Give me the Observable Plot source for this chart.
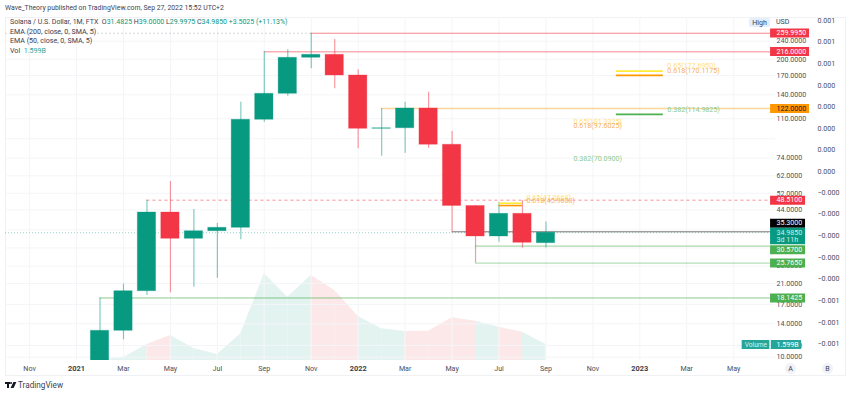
<!DOCTYPE html>
<html><head><meta charset="utf-8">
<script src="https://cdn.jsdelivr.net/npm/d3@7"></script>
<script src="https://cdn.jsdelivr.net/npm/@observablehq/plot@0.6"></script>
<style>
html,body{margin:0;background:#fff;font-family:Roboto,sans-serif}
#wrap{position:relative;width:850px;height:394px;overflow:hidden}
#wrap>*{position:absolute}
svg{left:0;top:0}
.t{white-space:pre;font-size:7.1px;color:#3d4150;line-height:9px}
.v{color:#089981}
</style></head><body><div id="wrap"></div>
<script>
// Monthly candles: index 0 = Nov 2020, 3 = Feb 2021 ... 22 = Sep 2022
const months = [3,4,5,6,7,8,9,10,11,12,13,14,15,16,17,18,19,20,21,22];
const opens  = [8,13.04,19.42,42.86,32.9,35.5,36.74,108.9,141.4,203.1,209.3,170,99.45,100,122,84.7,45.76,33.67,42.3,31.4825];
const highs  = [18.1425,20.88,48.51,58.53,44.17,38.37,130,216,220.2,259.995,244.1,180,122,130,143.7,96.8,45.9,47.5,48.3,39];
const lows   = [8,11.91,18.6,19.11,20.22,22.13,32.57,106.3,138,181.8,148.7,81.3,75.5,77.8,81.8,35.3,25.765,31.8,29.93,29.9975];
const closes = [13.04,19.42,42.86,32.9,35.5,36.74,108.9,141.4,203.1,209.3,170,99.45,100,122,84.7,45.76,33.67,42.3,31.6,34.985];
const volumes= [0.05,0.27,1.6,2.5,1.2,0.6,2.67,8.67,6.33,8.5,7,4.4,3.17,2.9,2.93,4.27,3.93,3.33,2.83,1.6];

const tickIdx = [0,4,6,8,10,12,16,18,20,22,24,28,30];
const tickTxt = ["Nov","Mar","May","Jul","Sep","Nov","Mar","May","Jul","Sep","Nov","Mar","May"];
const yearIdx = [2,14,26];
const yearTxt = ["2021","2022","2023"];
const priceTicks = [240,200,170,140,110,90,74,62,52,44,25,21,17,14,11.25,10];
const gridPrices = [240,200,170,140,110,90,74,62,52,44,36,30,25,21,17,14,11.25,10];

const sideAt  = [295.5,237.6,191.8,153.8,124.4,100,80.8,64.9,52.4,42.2,34,27.3,22.07,17.69,14.18,11.48];
const sideTxt = ["0.001","0.001","0.001","0.000","0.000","0.000","0.000","0.000","−0.000","−0.000","−0.000","−0.000","−0.000","−0.001","−0.001","−0.001"];

// Horizontal levels
const levelPrice = [259.995,216,122,48.51,35.3,30.57,25.765,18.1425];
const levelFrom  = [12,10,15,5,18,19,19,3];
const levelColor = ["#f23645","#f23645","#ff9800","#f23645","#555555","#4caf50","#4caf50","#4caf50"];
const levelAlpha = [0.6,0.4,0.4,0.55,0.8,0.6,0.5,0.65];
const levelWidth = [1,1.4,1.4,1,1,1,1,1];
const levelDash  = ["","","","3,3","","","",""];

// Price tags on the scale
const tagAt    = [260.9,216.5,122,48.51,38.5,33.8,29.5,25.765,18.1425,11.36,11.36];
const tagStart = [31.57,31.57,31.57,31.57,31.57,31.57,31.57,31.57,31.57,30.36,31.6];
const tagEnd   = [33.23,33.23,33.23,33.06,33.06,33.06,33.06,33.06,33.06,31.54,32.89];
const tagH     = [9,9,9,9,9,16.5,9,9,9,9,9];
const tagFill  = ["#f23645","#f23645","#ff9800","#f23645","#000000","#089981","#4caf50","#4caf50","#4caf50","#26a69a","#26a69a"];
const tagTxtAt = [260.9,216.5,122,48.51,38.5,35.05,29.5,25.765,18.1425,11.36,11.36];
const tagTxtX  = [31.82,31.82,31.82,31.82,31.82,31.82,31.82,31.82,31.82,30.47,31.82];
const tagTxt   = ["259.9950","216.0000","122.0000","48.5100","35.3000","34.9850","30.5700","25.7650","18.1425","Volume","1.599B"];
const tagInk   = ["#fff","#fff","#131722","#fff","#fff","#cfeee8","#fff","#fff","#fff","#d8f2ee","#fff"];
const tagSize  = [7.1,7.1,7.1,7.1,7.1,7.1,7.1,7.1,7.1,6.6,7.1];

// Fibonacci levels
const fibPrice = [177.695,170.1175,114.9825,101.3325,97.6025,70.09,47.0668,45.9608];
const fibFrom  = [25,25,25,null,null,null,20,20];
const fibTo    = [27,27,27,23,23,23,21,21];
const fibName  = ["0.65","0.618","0.382","0.65","0.618","0.382","0.65","0.618"];
const fibLine  = ["#ffeb3b","#ff9800","#4caf50","#ffeb3b","#ff9800","#4caf50","#ffeb3b","#ff9800"];
const fibInk   = ["#ffe27a","#f5b35c","#8ccb8e","#ffe27a","#f5b35c","#8ccb8e","#ffe27a","#f5b35c"];

const UP="#089981", DOWN="#f23645";
const candles = months.map((m,k)=>({i:m,o:opens[k],h:highs[k],l:lows[k],c:closes[k],col:closes[k]>=opens[k]?UP:DOWN}));
const levels = levelPrice.map((p,k)=>({p,from:levelFrom[k],col:levelColor[k],a:levelAlpha[k],w:levelWidth[k],dash:levelDash[k]}));
const tags = tagAt.map((at,k)=>({at,a:tagStart[k],b:tagEnd[k],h:tagH[k],fill:tagFill[k],tat:tagTxtAt[k],tx:tagTxtX[k],txt:tagTxt[k],ink:tagInk[k],size:tagSize[k]}));
const fibs = fibPrice.map((p,k)=>({p,a:fibFrom[k],b:fibTo[k],line:fibLine[k],ink:fibInk[k],txt:`${fibName[k]}(${p.toFixed(4)})`}));
const sides = sideAt.map((at,k)=>({at,txt:sideTxt[k]}));
const volSegs = [];
months.forEach((m,k)=>{ if(k>0){ const col=closes[k]>=opens[k]?"#e3f3f0":"#fde8e9";
  volSegs.push({i:months[k-1],v:volumes[k-1],z:k,col}); volSegs.push({i:m,v:volumes[k],z:k,col}); }});

const xDomain=[-1.027,31.78];
const base={width:850,height:394,marginLeft:5,marginRight:75,marginTop:17,marginBottom:34,
  x:{domain:xDomain,axis:null},style:{background:"transparent",fontFamily:"Roboto",overflow:"visible"}};

const volPlot = Plot.plot({...base,y:{domain:[0,34.3],axis:null},marks:[
  Plot.area(volSegs,{x1:"i",y1:0,y2:"v",z:"z",fill:"col",curve:"linear"})
]});

const ax={fontSize:7.1,fill:"#4b4f5c"};
const pricePlot = Plot.plot({...base,y:{type:"log",domain:[9.674,304.6],axis:null},marks:[
  Plot.ruleY(gridPrices,{stroke:"#f4f5f8"}),
  Plot.ruleX([...tickIdx,...yearIdx],{stroke:"#f4f5f8"}),
  Plot.axisX(tickIdx,{anchor:"bottom",tickSize:0,tickPadding:5,label:null,tickFormat:d=>tickTxt[tickIdx.indexOf(d)],...ax}),
  Plot.axisX(yearIdx,{anchor:"bottom",tickSize:0,tickPadding:5,label:null,tickFormat:d=>yearTxt[yearIdx.indexOf(d)],fontSize:7.4,fontWeight:"bold",fill:"#3a3e4a"}),
  Plot.axisY(priceTicks,{anchor:"right",tickSize:0,tickPadding:1,label:null,tickFormat:d=>d.toFixed(4),...ax}),
  Plot.text(sides,{x:33.57,y:"at",text:"txt",textAnchor:"start",...ax}),
  // current price and high guides
  Plot.ruleY([34.985],{x1:xDomain[0],x2:xDomain[1],stroke:UP,strokeOpacity:.4,strokeDasharray:"1,2"}),
  Plot.ruleY([259.995],{x1:xDomain[0],x2:12,stroke:"#c8cad0",strokeDasharray:"2,2",strokeWidth:.8}),
  // levels
  ...levels.map(l=>Plot.ruleY([l.p],{x1:l.from,x2:31.57,stroke:l.col,strokeOpacity:l.a,strokeWidth:l.w,strokeDasharray:l.dash||undefined})),
  // candles
  Plot.ruleX(candles,{x:"i",y1:"l",y2:"h",stroke:"col",strokeOpacity:.5,strokeWidth:1.2,clip:true}),
  Plot.rect(candles,{x1:d=>d.i-.39,x2:d=>d.i+.39,y1:"o",y2:"c",fill:"col",stroke:"col",strokeOpacity:.3,clip:true}),
  // fib
  Plot.ruleY(fibs.filter(f=>f.a!=null),{y:"p",x1:"a",x2:"b",stroke:"line",strokeWidth:1.6}),
  Plot.text(fibs,{x:"b",y:"p",dx:4,dy:-5,text:"txt",fill:"ink",textAnchor:"start",fontSize:7.1}),
  // tags
  Plot.ruleY(tags,{y:"at",x1:"a",x2:"b",stroke:"fill",strokeWidth:"h"}),
  ...tags.map(t=>Plot.text([t],{x:"tx",y:"tat",text:"txt",fill:"ink",textAnchor:"start",fontSize:t.size})),
  Plot.text(["3d 11h"],{x:31.82,y:[32.44],text:d=>d,fill:"#cfeee8",textAnchor:"start",fontSize:7.1})
]});

const wrap=document.getElementById("wrap");
function add(html,css){const d=document.createElement("div");d.className="t";d.innerHTML=html;d.style.cssText=css;wrap.appendChild(d);return d;}
add("",`left:5px;top:17px;width:839px;height:357px;border:1px solid #f0f1f4`);
wrap.appendChild(volPlot); wrap.appendChild(pricePlot);
add("Wave_Theory published on TradingView.com, Sep 27, 2022 15:52 UTC+2","left:5px;top:4px;font-size:6.85px");
add(`Solana / U.S. Dollar, 1M, FTX  O<span class=v>31.4825</span> H<span class=v>39.0000</span> L<span class=v>29.9975</span> C<span class=v>34.9850</span> <span class=v>+3.5025 (+11.13%)</span>`,"left:10px;top:18px;font-size:7px");
add("EMA (200, close, 0, SMA, 5)","left:10px;top:27px");
add("EMA (50, close, 0, SMA, 5)","left:10px;top:36px");
add(`Vol  <span style="color:#26a69a">1.599B</span>`,"left:10px;top:45.5px");
add("USD","left:776px;top:17px");
add("High","left:749px;top:18px;width:21px;height:9px;background:#e3effd;border-radius:2px;text-align:center");
add("A","left:785px;top:362.5px;width:11px;height:11px;line-height:11px;border-radius:50%;background:#f0f2f7;text-align:center");
add("B","left:822px;top:362.5px;width:11px;height:11px;line-height:11px;border-radius:50%;background:#f0f2f7;text-align:center");
add("","left:5px;top:382px;width:5px;height:2px;background:#131722");
add("","left:7px;top:382px;width:2px;height:6px;background:#131722");
add("","left:10px;top:382px;width:2px;height:2px;border-radius:50%;background:#131722");
add("","left:11.5px;top:382px;width:2.5px;height:6px;background:#131722;transform:skewX(-25deg)");
add("TradingView","left:18px;top:380.5px;font-size:8.2px;color:#3d4150");
</script></body></html>
